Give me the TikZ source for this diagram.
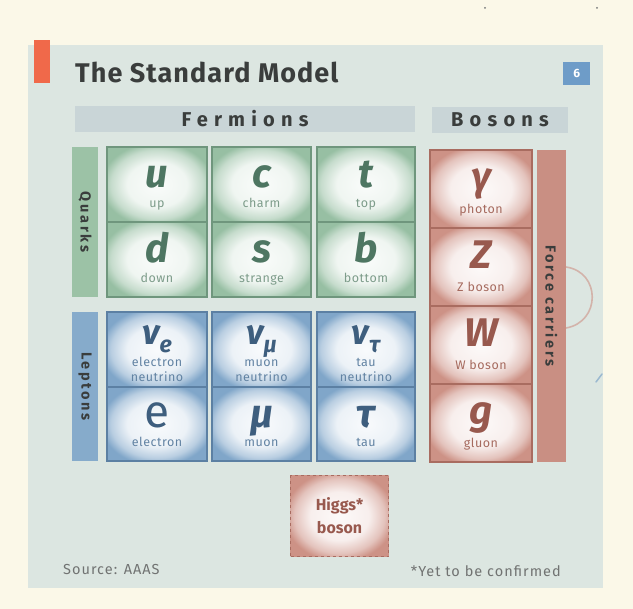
\documentclass[tikz,border=0pt]{standalone}
\usepackage{fontspec}
\setmainfont{Fira Sans}
\definecolor{cream}{HTML}{FBF8E8}
\definecolor{panel}{HTML}{DCE6E1}
\definecolor{band}{HTML}{C9D5D7}
\definecolor{ink}{HTML}{3A3D3C}
\definecolor{gcell}{HTML}{97BFA3}
\definecolor{gline}{HTML}{6F967D}
\definecolor{gtext}{HTML}{4E7662}
\definecolor{glab}{HTML}{7D9C8A}
\definecolor{gbar}{HTML}{9CC2A6}
\definecolor{bcell}{HTML}{80A6C9}
\definecolor{bline}{HTML}{5C80A3}
\definecolor{btext}{HTML}{3E5E7E}
\definecolor{blab}{HTML}{6283A3}
\definecolor{bbar}{HTML}{86ABCB}
\definecolor{rcell}{HTML}{CD9286}
\definecolor{rline}{HTML}{A96C60}
\definecolor{rtext}{HTML}{98594E}
\definecolor{rlab}{HTML}{A66A5E}
\definecolor{rbar}{HTML}{C98F83}
\definecolor{titlered}{HTML}{F0694A}
\definecolor{sixblue}{HTML}{6E9CC8}
\pgfdeclareradialshading{gglow}{\pgfpointorigin}{color(0bp)=(white!95!gcell); color(15bp)=(white!85!gcell); color(23bp)=(white!45!gcell); color(28bp)=(gcell); color(50bp)=(gcell)}
\pgfdeclareradialshading{bglow}{\pgfpointorigin}{color(0bp)=(white!95!bcell); color(15bp)=(white!85!bcell); color(23bp)=(white!45!bcell); color(28bp)=(bcell); color(50bp)=(bcell)}
\pgfdeclareradialshading{rglow}{\pgfpointorigin}{color(0bp)=(white!95!rcell); color(15bp)=(white!85!rcell); color(23bp)=(white!45!rcell); color(28bp)=(rcell); color(50bp)=(rcell)}
\tikzset{
  cellbase/.style={shade, inner sep=0pt, outer sep=0pt, line width=1.1pt, anchor=north west},
  gbox/.style={cellbase, draw=gline, shading=gglow},
  bbox/.style={cellbase, draw=bline, shading=bglow},
  rbox/.style={cellbase, draw=rline, shading=rglow},
  symbase/.style={inner sep=0pt, anchor=base, font=\fontsize{40}{40}\selectfont\bfseries\itshape},
  gsym/.style={symbase, text=gtext},
  bsym/.style={symbase, text=btext},
  rsym/.style={symbase, text=rtext},
  nusym/.style={inner sep=0pt, anchor=base, text=btext, font=\fontsize{35}{35}\selectfont\bfseries\itshape},
  labbase/.style={inner sep=0pt, anchor=base, align=center, font=\fontsize{12.5}{15}\selectfont\addfontfeature{LetterSpace=4}},
  glab/.style={labbase, text=glab},
  blab/.style={labbase, text=blab},
  rlab/.style={labbase, text=rlab},
  sidebar/.style={inner sep=0pt, outer sep=0pt, anchor=north west},
  sidetext/.style={rotate=-90, inner sep=0pt, text=ink, font=\fontsize{14.5}{15}\selectfont\bfseries\addfontfeature{LetterSpace=18}},
  header/.style={inner sep=0pt, outer sep=0pt, anchor=north west, fill=band},
  headtext/.style={inner sep=0pt, text=ink, font=\fontsize{20}{20}\selectfont\bfseries\addfontfeature{LetterSpace=31}},
  foot/.style={inner sep=0pt, text=ink!72, font=\fontsize{14.5}{14.5}\selectfont\addfontfeature{LetterSpace=7}}
}
\newcommand\nusub[1]{\raisebox{-8pt}{\fontsize{23}{23}\selectfont #1}}
% name, family, x, y, w, h, symbol, label
\newcommand\particle[8]{%
  \node[#2box, minimum width=#5pt, minimum height=#6pt] (#1) at (#3,#4) {};
  \node[#2sym] (#1-s) at ([yshift=-41pt]#1.north) {#7};
  \node[#2lab] (#1-l) at ([yshift=14pt]#1.south) {#8};
}
% neutrino cell: name, x, y, w, subscript
\newcommand\neutrino[5]{%
  \node[bbox, minimum width=#4pt, minimum height=75pt] (#1) at (#2,#3) {};
  \node[nusym] (#1-s) at ([yshift=-33pt]#1.north) {ν\nusub{#5}};
}
\begin{document}
\begin{tikzpicture}[x=1pt,y=-1pt]
\useasboundingbox (0,0) rectangle (633,609);
\fill[cream] (0,0) rectangle (633,609);
\fill[panel] (28,45) rectangle (603,588);
\fill[titlered] (34,40) rectangle (50,83);
% title
\node[inner sep=0pt, anchor=base west, text=ink, font=\fontsize{27}{27}\selectfont\bfseries\addfontfeature{LetterSpace=4}] (title) at (75,83) {The Standard Model};
\node[fill=sixblue, minimum width=27pt, minimum height=23pt, inner sep=0pt, anchor=north west, text=white, font=\fontsize{12}{12}\selectfont\bfseries] (six) at (563,62) {6};
% headers
\node[header, minimum width=340pt, minimum height=26pt] (fermband) at (75,106) {};
\node[headtext] (ferm) at (fermband.center) {Fermions};
\node[header, minimum width=136pt, minimum height=26pt] (bosband) at (432,107) {};
\node[headtext] (bos) at (bosband.center) {Bosons};
% side bars
\node[sidebar, fill=gbar, minimum width=26pt, minimum height=150pt] (qbar) at (72,147) {};
\node[sidetext] (qtext) at (qbar.center) {Quarks};
\node[sidebar, fill=bbar, minimum width=26pt, minimum height=149pt] (lbar) at (72,312) {};
\node[sidetext] (ltext) at (lbar.center) {Leptons};
\node[sidebar, fill=rbar, minimum width=29pt, minimum height=312pt] (fbar) at (537,150) {};
\node[sidetext] (ftext) at (fbar.center) {Force carriers};
% quarks
\particle{u}{g}{107}{147}{100}{75}{u}{up}
\particle{c}{g}{212}{147}{99}{75}{c}{charm}
\particle{t}{g}{317}{147}{98}{75}{t}{top}
\particle{d}{g}{107}{222}{100}{75}{d}{down}
\particle{s}{g}{212}{222}{99}{75}{s}{strange}
\particle{b}{g}{317}{222}{98}{75}{b}{bottom}
% leptons
\neutrino{ne}{107}{312}{100}{e}
\neutrino{nm}{212}{312}{99}{μ}
\neutrino{nt}{317}{312}{98}{τ}
\node[blab] (ne-l) at ([yshift=5pt]ne.south) {electron\\neutrino};
\node[blab] (nm-l) at ([yshift=5pt]nm.south) {muon\\neutrino};
\node[blab] (nt-l) at ([yshift=5pt]nt.south) {tau\\neutrino};
\particle{e}{b}{107}{387}{100}{74}{\upshape\mdseries\fontsize{46}{46}\selectfont e}{electron}
\particle{mu}{b}{212}{387}{99}{74}{μ}{muon}
\particle{tau}{b}{317}{387}{98}{74}{τ}{tau}
% bosons
\particle{gam}{r}{430}{150}{102}{78}{γ}{photon}
\particle{Z}{r}{430}{228}{102}{78}{Z}{Z boson}
\particle{W}{r}{430}{306}{102}{78}{W}{W boson}
\particle{g}{r}{430}{384}{102}{78}{g}{gluon}
% Higgs
\node[shade, shading=rglow, draw=rline, dashed, line width=1.1pt, minimum width=98pt, minimum height=81pt, inner sep=0pt, anchor=north west] (higgs) at (290,475) {};
\node[inner sep=0pt, align=center, text=rtext, font=\fontsize{16}{23}\selectfont\bfseries] (higgs-t) at (higgs.center) {Higgs*\\boson};
% footer
\node[foot, anchor=base west] (src) at (63,575) {Source: AAAS};
\node[foot, anchor=base east] (note) at (561,577) {*Yet to be confirmed};
% scan marks
\draw[rcell, opacity=0.6, line width=1.6pt] (566,267) .. controls (601,272) and (601,322) .. (566,328);
\draw[bcell, opacity=0.7, line width=1.5pt, line cap=round] (596,382) -- (602,374);
\fill[ink!70] (485,8) circle (1pt);
\fill[ink!70] (597,8) circle (1pt);
\end{tikzpicture}
\end{document}
